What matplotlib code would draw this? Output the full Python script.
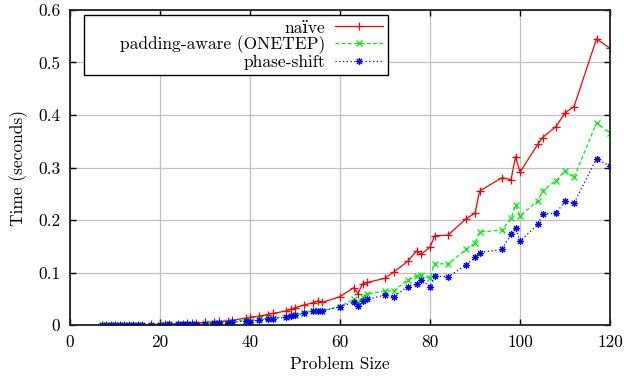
import matplotlib
matplotlib.use("Agg")
import matplotlib.pyplot as plt
from matplotlib.offsetbox import VPacker

plt.rcParams['font.family'] = ['cmr10', 'DejaVu Serif']
plt.rcParams['mathtext.fontset'] = 'cm'
plt.rcParams['axes.unicode_minus'] = False
plt.rcParams['font.size'] = 12.5

# problem sizes (13-smooth numbers)
sizes = [7, 8, 9, 10, 11, 12, 13, 14, 15, 16, 18, 20, 21, 22, 24, 25, 26, 27, 28,
         30, 32, 33, 35, 36, 39, 40, 42, 44, 45, 48, 49, 50, 52, 54, 55, 56, 60,
         63, 64, 65, 66, 70, 72, 75, 77, 78, 80, 81, 84, 88, 90, 91, 96, 98, 99,
         100, 104, 105, 108, 110, 112, 117, 120]

naive = [0.0002, 0.0002, 0.0003, 0.0003, 0.0004, 0.0005, 0.0006, 0.0007, 0.0008,
         0.0009, 0.0012, 0.0015, 0.0017, 0.002, 0.0025, 0.0028, 0.003, 0.0033,
         0.0036, 0.005, 0.006, 0.007, 0.008, 0.009, 0.013, 0.0147, 0.017, 0.020,
         0.022, 0.0267, 0.030, 0.033, 0.038, 0.0425, 0.0457, 0.043, 0.054,
         0.071, 0.060, 0.079, 0.081, 0.089, 0.1015, 0.121, 0.141, 0.135, 0.148,
         0.170, 0.171, 0.2025, 0.2128, 0.255, 0.2806, 0.2768, 0.3206, 0.291,
         0.345, 0.357, 0.378, 0.404, 0.416, 0.545, 0.527]

padding = [0.0001, 0.0001, 0.0002, 0.0002, 0.0003, 0.0003, 0.0004, 0.0004, 0.0005,
           0.0005, 0.0007, 0.0009, 0.001, 0.0012, 0.0015, 0.0017, 0.0018, 0.002,
           0.0022, 0.003, 0.004, 0.0045, 0.005, 0.006, 0.0095, 0.008, 0.011,
           0.0127, 0.014, 0.016, 0.019, 0.020, 0.023, 0.027, 0.0286, 0.027, 0.035,
           0.049, 0.044, 0.054, 0.059, 0.065, 0.065, 0.086, 0.093, 0.096, 0.089,
           0.117, 0.116, 0.144, 0.156, 0.177, 0.181, 0.203, 0.228, 0.208, 0.237,
           0.256, 0.275, 0.294, 0.281, 0.385, 0.365]

phase_shift = [0.0001, 0.0001, 0.0001, 0.0002, 0.0002, 0.0002, 0.0003, 0.0003,
               0.0004, 0.0004, 0.0006, 0.0007, 0.0008, 0.001, 0.0012, 0.0014,
               0.0015, 0.0017, 0.0019, 0.0025, 0.003, 0.0035, 0.0045, 0.005,
               0.0076, 0.0064, 0.0095, 0.011, 0.012, 0.0146, 0.018, 0.019, 0.022,
               0.026, 0.027, 0.0267, 0.035, 0.043, 0.036, 0.046, 0.049, 0.057,
               0.054, 0.073, 0.078, 0.086, 0.073, 0.093, 0.092, 0.114, 0.129,
               0.138, 0.144, 0.173, 0.185, 0.160, 0.192, 0.211, 0.213, 0.236,
               0.232, 0.317, 0.302]

xticks = [0, 20, 40, 60, 80, 100, 120]
yticks = [0, 0.1, 0.2, 0.3, 0.4, 0.5, 0.6]
ytick_labels = ['0', '0.1', '0.2', '0.3', '0.4', '0.5', '0.6']

fig = plt.figure(figsize=(6.24, 3.83), dpi=100)
ax = fig.add_axes([0.1122, 0.1514, 0.8654, 0.8225])

ax.plot(sizes, naive, color='#ff0000', lw=0.9, ls='-', marker='+', ms=6, mew=0.9,
        label='naïve')
ax.plot(sizes, padding, color='#00ee00', lw=0.9, ls=(0, (3, 2)), marker='x', ms=5,
        mew=0.9, label='padding-aware (ONETEP)')
ax.plot(sizes, phase_shift, color='#0000ff', lw=0.9, ls=(0, (1, 2)),
        marker=(8, 2, 0), ms=5, mew=0.8, label='phase-shift')

ax.set_xlim(0, 120)
ax.set_ylim(0, 0.6)
ax.set_xticks(xticks)
ax.set_yticks(yticks)
ax.set_yticklabels(ytick_labels)
ax.grid(True, color='#c0c0c0', lw=0.9)
ax.set_axisbelow(True)
ax.tick_params(direction='in', length=4, width=1, top=True, right=True, pad=7)
for sp in ax.spines.values():
    sp.set_linewidth(1.3)
    sp.set_color('#222222')

ax.set_xlabel('Problem Size', labelpad=5)
ax.set_ylabel('Time (seconds)', labelpad=7)

leg = ax.legend(loc='upper left', bbox_to_anchor=(0.026, 0.984), borderaxespad=0,
                markerfirst=False, handlelength=2.8, handletextpad=0.55,
                labelspacing=0.0, borderpad=0.3, fancybox=False, framealpha=1,
                edgecolor='black')
leg.get_frame().set_linewidth(1.0)
# right-align the labels against their line samples, fixed column width
for box in leg._legend_box.get_children():
    for col in box.get_children():
        if isinstance(col, VPacker):
            col.align = 'right'
            col.width = 294

fig.savefig('out.png', dpi=100)
